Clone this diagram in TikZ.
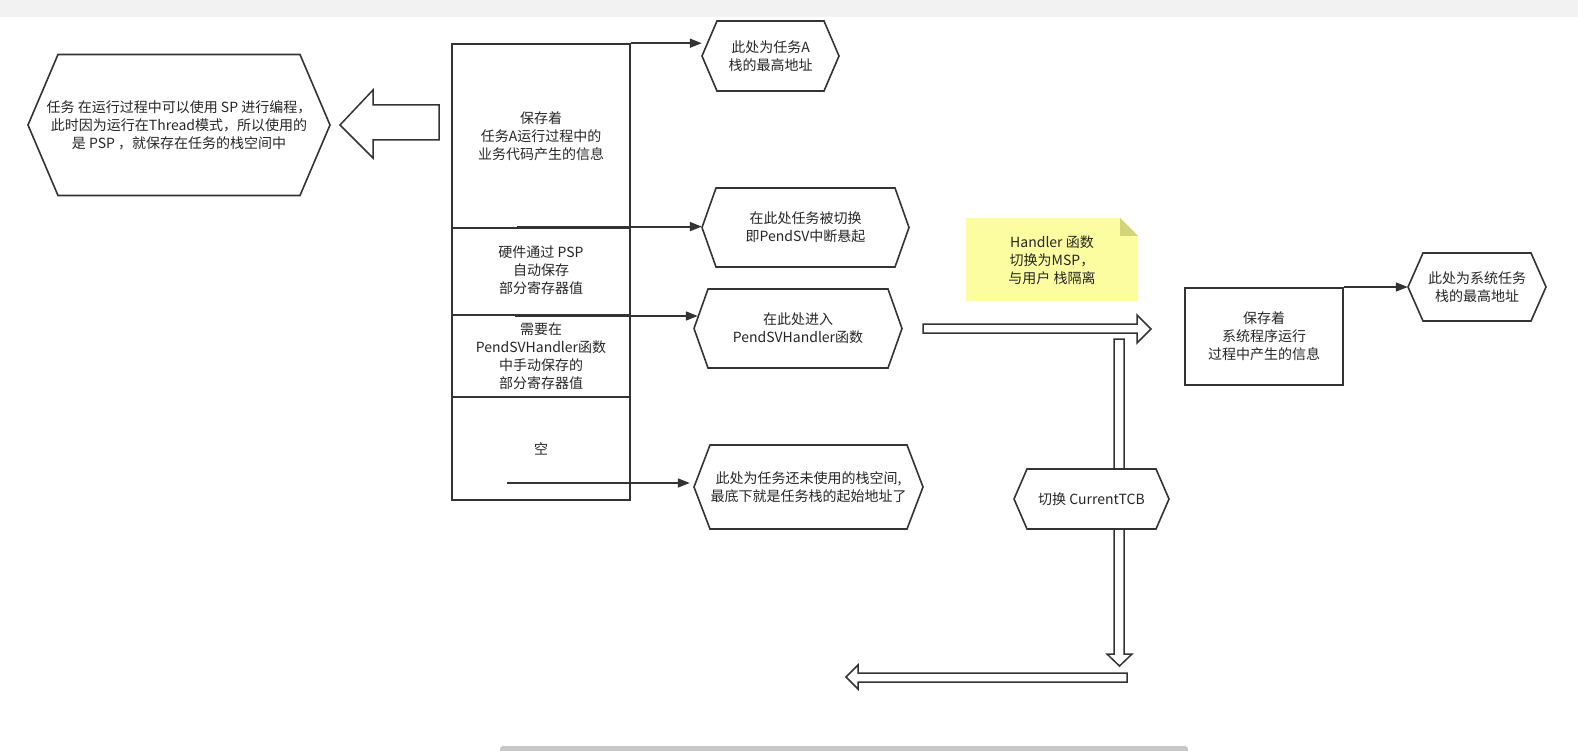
\documentclass[tikz,border=0pt]{standalone}
\usepackage{fontspec}
\newfontfamily\cjk{Noto Sans CJK SC}
\usetikzlibrary{arrows.meta,calc}
\definecolor{ink}{HTML}{333333}
\definecolor{notey}{RGB}{252,252,160}
\definecolor{notef}{RGB}{212,212,122}
\tikzset{
  hexline/.style={draw=ink,line width=1.6pt,fill=white,line join=miter},
  lbl/.style={font=\cjk\fontsize{14}{18}\selectfont,text=black!85,align=center,inner sep=0pt,shape=rectangle},
  cell/.style={draw=ink,line width=1.6pt,lbl},
  conn/.style={draw=ink,line width=1.7pt,-{Triangle[length=12pt,width=9pt]}},
  hollow/.style={draw=ink,line width=1.5pt,fill=white,line join=miter}
}
\newcommand{\hexnode}[7]{%
  \filldraw[hexline] ({#2-#4/2},#3) -- ({#2-#4/2+#6},{#3-#5/2}) -- ({#2+#4/2-#6},{#3-#5/2}) -- ({#2+#4/2},#3) -- ({#2+#4/2-#6},{#3+#5/2}) -- ({#2-#4/2+#6},{#3+#5/2}) -- cycle;
  \node[lbl,minimum width=#4,minimum height=#5] (#1) at (#2,#3) {#7};}
\begin{document}
\begin{tikzpicture}[x=1pt,y=-1pt]
\useasboundingbox (0,0) rectangle (1578,751);
% window chrome
\fill[black!5] (0,0) rectangle (1578,17);
\fill[black!22,rounded corners=3pt] (500,746) rectangle (1188,753);

% left hexagon
\hexnode{L}{179}{125}{302}{141}{30}{任务 在运行过程中可以使用 SP 进行编程，\\ 此时因为运行在Thread模式，所以使用的\\是 PSP ，就保存在任务的栈空间中}

% left hollow arrow
\filldraw[hollow] (439,105) -- (373,105) -- (373,90) -- (340,125) -- (373,158) -- (373,140) -- (439,140) -- cycle;

% stack
\node[cell,minimum width=178,minimum height=184] (s1) at (541,136) {保存着\\任务A运行过程中的\\业务代码产生的信息};
\node[cell,minimum width=178,minimum height=87] (s2) at (541,271.5) {\raisebox{-6pt}{\begin{tabular}{@{}c@{}}硬件通过 PSP\\自动保存\\部分寄存器值\end{tabular}}};
\node[cell,minimum width=178,minimum height=82] (s3) at (541,356) {需要在\\PendSVHandler函数\\中手动保存的\\部分寄存器值};
\node[cell,minimum width=178,minimum height=103] (s4) at (541,448.5) {空};

% right-side hexagons
\hexnode{A}{770.5}{56}{137}{70}{15}{此处为任务A\\栈的最高地址}
\hexnode{B}{805.5}{227.5}{207}{79}{14}{在此处任务被切换\\即PendSV中断悬起}
\hexnode{C}{798}{328.5}{208}{79}{14}{在此处进入\\PendSVHandler函数}
\hexnode{D}{808.5}{487}{229}{84}{16}{此处为任务还未使用的栈空间,\\最底下就是任务栈的起始地址了}

% connectors from stack
\coordinate (b0) at (517,226.6);
\coordinate (c0) at (515,316);
\coordinate (d0) at (507,483);
\draw[conn] (s1.north east) -- (s1.north east -| A.west);
\draw[conn,line width=2pt] (b0) -- (b0 -| B.west);
\draw[conn] (c0) -- ($(c0 -| C.west)+(4,0)$);
\draw[conn] (d0) -- ($(d0 -| D.west)+(-4,0)$);

% yellow note
\fill[notey] (966,218) -- (1120,218) -- (1138,236) -- (1138,301) -- (966,301) -- cycle;
\fill[notef] (1120,218) -- (1138,236) -- (1120,236) -- cycle;
\node[lbl] (note) at (1052,260) {Handler 函数\\切换为MSP，\\与用户 栈隔离};

% right hollow arrow
\filldraw[hollow] (923,324) -- (1137,324) -- (1137,315) -- (1151,329) -- (1137,343) -- (1137,333) -- (923,333) -- cycle;

% vertical hollow arrow
\filldraw[hollow] (1114,339) -- (1124,339) -- (1124,654) -- (1132,654) -- (1119.5,666) -- (1107,654) -- (1114,654) -- cycle;

% CurrentTCB hexagon over the arrow
\hexnode{F}{1091.5}{499}{155}{60}{13}{切换 CurrentTCB}

% bottom hollow arrow
\filldraw[hollow] (1127,673) -- (858,673) -- (858,665) -- (846,677) -- (858,689) -- (858,682) -- (1127,682) -- cycle;

% system stack box
\node[cell,line width=2pt,minimum width=158,minimum height=97] (sys) at (1264,336.5) {保存着\\系统程序运行\\过程中产生的信息};
\hexnode{E}{1477}{287}{138}{68}{15}{此处为系统任务\\栈的最高地址}
\draw[conn] (sys.north east) -- (E.west);
\end{tikzpicture}
\end{document}
